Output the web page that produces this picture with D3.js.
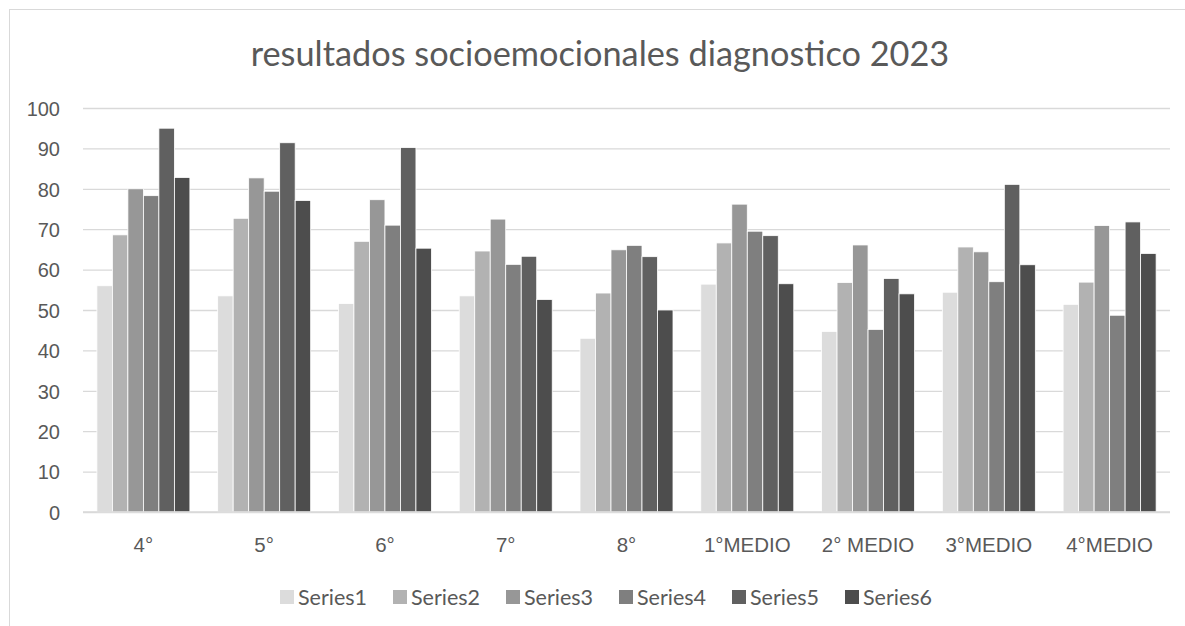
<!DOCTYPE html>
<html>
<head>
<meta charset="utf-8">
<script src="https://cdn.jsdelivr.net/npm/d3@7"></script>
<style>
  html, body { margin: 0; padding: 0; background: #fff; }
  svg { display: block; font-family: Lato, "Open Sans", sans-serif; }
</style>
</head>
<body>
<svg id="chart" width="1185" height="626"></svg>
<script>
// Grade levels along the x axis
const categories = ["4°", "5°", "6°", "7°", "8°", "1°MEDIO", "2° MEDIO", "3°MEDIO", "4°MEDIO"];
const seriesNames = ["Series1", "Series2", "Series3", "Series4", "Series5", "Series6"];

// Scores per series, one value per grade level
const series1 = [56.0, 53.5, 51.6, 53.5, 43.0, 56.4, 44.7, 54.4, 51.4];
const series2 = [68.6, 72.7, 67.0, 64.6, 54.2, 66.6, 56.8, 65.6, 56.9];
const series3 = [80.0, 82.7, 77.3, 72.5, 64.9, 76.2, 66.1, 64.4, 70.9];
const series4 = [78.3, 79.4, 71.0, 61.3, 66.0, 69.5, 45.2, 57.0, 48.7];
const series5 = [95.0, 91.4, 90.2, 63.3, 63.2, 68.4, 57.8, 81.1, 71.8];
const series6 = [82.8, 77.1, 65.3, 52.6, 50.0, 56.5, 54.0, 61.2, 64.0];

const yTicks = [0, 10, 20, 30, 40, 50, 60, 70, 80, 90, 100];
const colors = ["#dcdcdc", "#b2b2b2", "#979797", "#7f7f7f", "#606060", "#4d4d4d"];

const allSeries = [series1, series2, series3, series4, series5, series6];
const rows = categories.map((c, i) => ({
  category: c,
  values: seriesNames.map((s, j) => ({ key: s, value: allSeries[j][i] }))
}));

const svg = d3.select("#chart");
const W = 1185, H = 626;
const margin = { left: 83, right: 15, top: 108, bottom: 114 };
const textColor = "#595959";

// Chart frame
svg.append("rect")
  .attr("x", 9.5).attr("y", 9.5)
  .attr("width", W + 20).attr("height", H + 20)
  .attr("fill", "#fff").attr("stroke", "#d9d9d9").attr("stroke-width", 1);

const x0 = d3.scaleBand()
  .domain(categories)
  .range([margin.left, W - margin.right])
  .paddingInner(0.23)
  .paddingOuter(0.115);

const x1 = d3.scaleBand()
  .domain(seriesNames)
  .range([0, x0.bandwidth()]);

const y = d3.scaleLinear()
  .domain([0, 100])
  .range([H - margin.bottom, margin.top]);

const color = d3.scaleOrdinal().domain(seriesNames).range(colors);

// Gridlines and y tick labels
const yAxis = d3.axisLeft(y)
  .tickValues(yTicks)
  .tickSize(-(W - margin.right - margin.left))
  .tickPadding(23);

const gy = svg.append("g")
  .attr("transform", `translate(${margin.left},0)`)
  .call(yAxis);
gy.select(".domain").remove();
gy.selectAll(".tick line").attr("stroke", "#d9d9d9").attr("stroke-width", 1.3);
gy.selectAll(".tick text")
  .attr("fill", textColor)
  .style("font-size", "20px")
  .attr("dy", "0.36em");

// Bars
const groups = svg.append("g")
  .selectAll("g")
  .data(rows)
  .join("g")
  .attr("transform", d => `translate(${x0(d.category)},0)`);

groups.selectAll("rect")
  .data(d => d.values)
  .join("rect")
  .attr("x", d => x1(d.key))
  .attr("y", d => y(d.value))
  .attr("width", x1.bandwidth())
  .attr("height", d => y(0) - y(d.value))
  .attr("fill", d => color(d.key))
  .attr("stroke", "#ffffff")
  .attr("stroke-width", 0.8);

// Category axis
const xAxis = d3.axisBottom(x0).tickSize(0).tickPadding(25);
const gx = svg.append("g")
  .attr("transform", `translate(0,${y(0)})`)
  .call(xAxis);
gx.select(".domain").attr("stroke", "#d9d9d9").attr("stroke-width", 1.5)
  .attr("d", `M${margin.left},0H${W - margin.right}`);
gx.selectAll(".tick text")
  .attr("fill", textColor)
  .style("font-size", "20.5px");

// Title
svg.append("text")
  .attr("x", 600)
  .attr("y", 66)
  .attr("text-anchor", "middle")
  .attr("fill", textColor)
  .style("font-size", "34.3px")
  .text("resultados socioemocionales diagnostico 2023");

// Legend
const legendStep = 113;
const legendX = 280;
const legendY = 597;
const legend = svg.append("g")
  .selectAll("g")
  .data(seriesNames)
  .join("g")
  .attr("transform", (d, i) => `translate(${legendX + i * legendStep},${legendY})`);

legend.append("rect")
  .attr("x", 0).attr("y", -7)
  .attr("width", 14).attr("height", 14)
  .attr("fill", d => color(d));

legend.append("text")
  .attr("x", 18).attr("y", 0)
  .attr("dy", "0.36em")
  .attr("fill", textColor)
  .style("font-size", "21.5px")
  .text(d => d);
</script>
</body>
</html>
